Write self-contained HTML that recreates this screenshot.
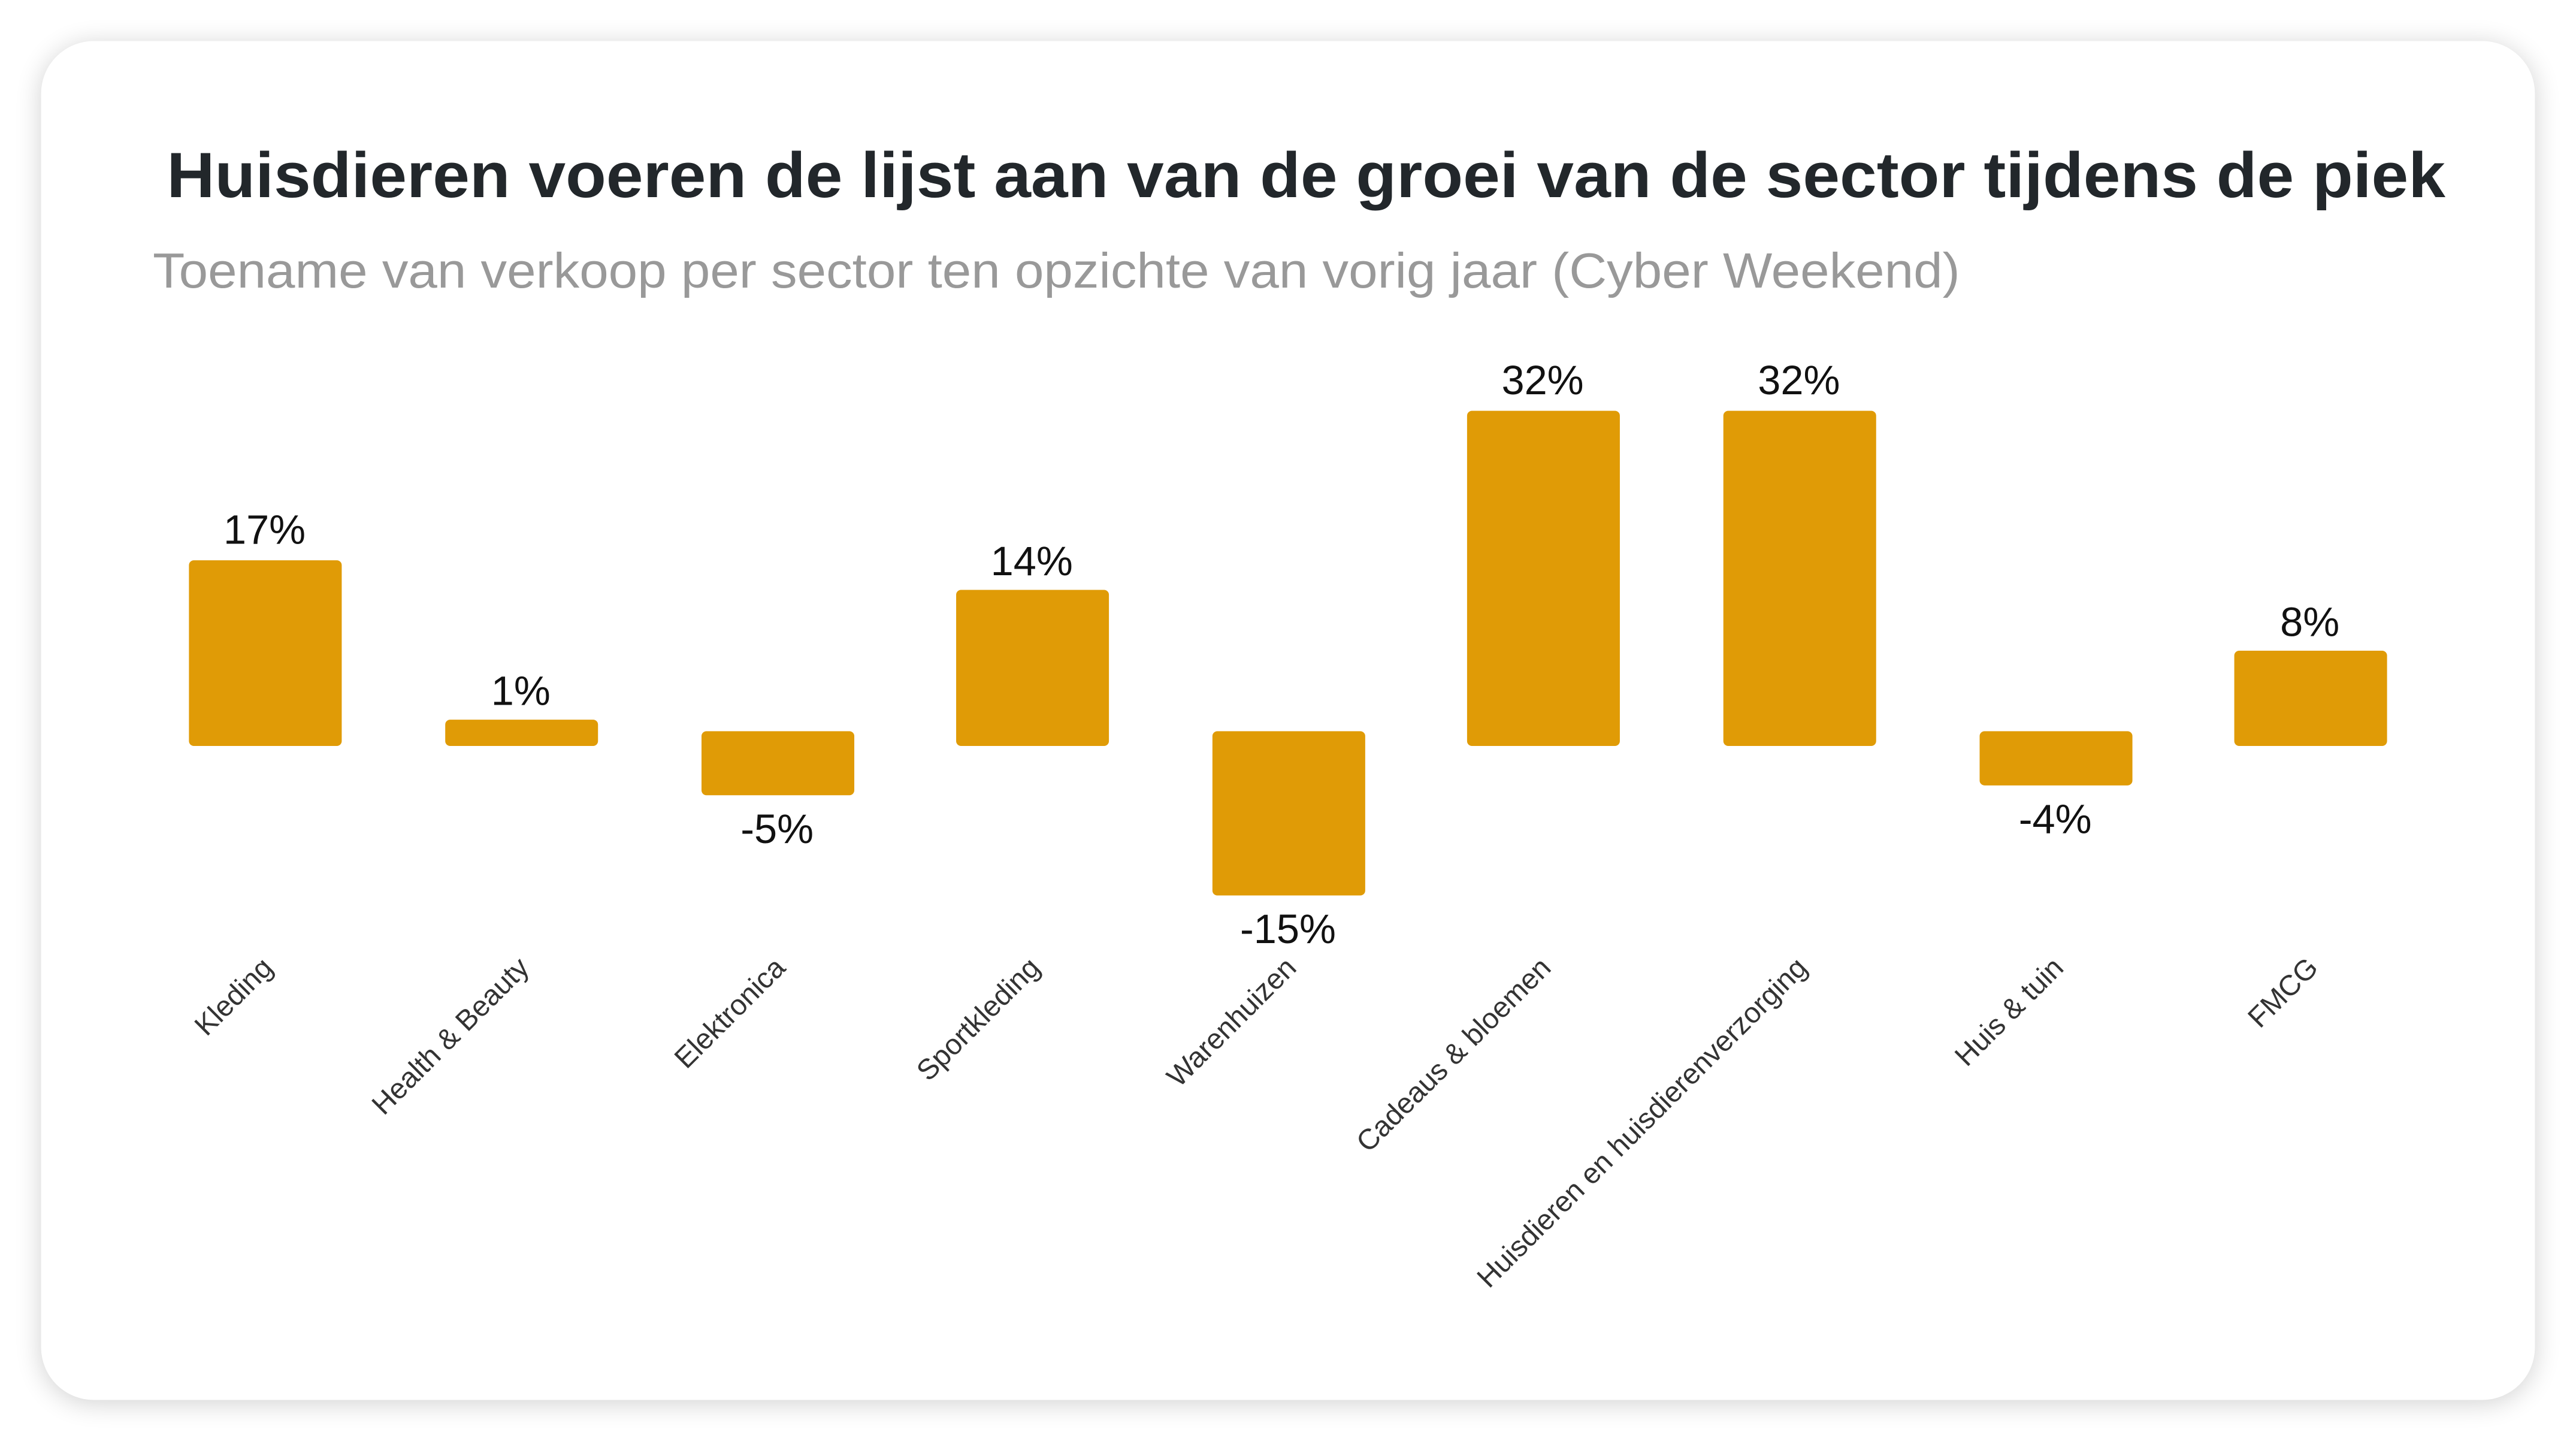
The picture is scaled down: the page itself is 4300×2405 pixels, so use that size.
<!DOCTYPE html>
<html><head><meta charset="utf-8"><style>
html,body{margin:0;padding:0;background:#fff;}
svg{display:block;}
text{font-family:"Liberation Sans","DejaVu Sans",sans-serif;}
</style></head><body>
<svg width="4300" height="2405" viewBox="0 0 1568 877" xmlns="http://www.w3.org/2000/svg">
<defs>
<filter id="sh" x="-5%" y="-5%" width="110%" height="110%">
<feGaussianBlur stdDeviation="8"/>
</filter>
</defs>
<rect width="1568" height="877" fill="#fff"/>
<rect x="25" y="27" width="1518" height="827" rx="32" fill="#000" opacity="0.18" filter="url(#sh)"/>
<rect x="25" y="25" width="1518" height="827" rx="32" fill="#fff"/>
<text x="795" y="120" text-anchor="middle" font-size="39" font-weight="bold" fill="#22272b" textLength="1387" lengthAdjust="spacingAndGlyphs">Huisdieren voeren de lijst aan van de groei van de sector tijdens de piek</text>
<text x="93" y="175" font-size="30" fill="#999" textLength="1100" lengthAdjust="spacingAndGlyphs">Toename van verkoop per sector ten opzichte van vorig jaar (Cyber Weekend)</text>
<g fill="#E09B06">
<rect x="115" y="341" width="93" height="113" rx="3"/>
<rect x="271" y="438" width="93" height="16" rx="3"/>
<rect x="427" y="445" width="93" height="39" rx="3"/>
<rect x="582" y="359" width="93" height="95" rx="3"/>
<rect x="738" y="445" width="93" height="100" rx="3"/>
<rect x="893" y="250" width="93" height="204" rx="3"/>
<rect x="1049" y="250" width="93" height="204" rx="3"/>
<rect x="1205" y="445" width="93" height="33" rx="3"/>
<rect x="1360" y="396" width="93" height="58" rx="3"/>
</g>
<g font-size="25" fill="#111" text-anchor="middle">
<text x="161" y="331">17%</text>
<text x="317" y="429">1%</text>
<text x="473" y="513">-5%</text>
<text x="628" y="350">14%</text>
<text x="784" y="574">-15%</text>
<text x="939" y="240">32%</text>
<text x="1095" y="240">32%</text>
<text x="1251" y="507">-4%</text>
<text x="1406" y="387">8%</text>
</g>
<g font-size="17.5" fill="#333" text-anchor="end">
<text transform="translate(167,590) rotate(-45)">Kleding</text>
<text transform="translate(323,590) rotate(-45)">Health &amp; Beauty</text>
<text transform="translate(479,590) rotate(-45)">Elektronica</text>
<text transform="translate(634,590) rotate(-45)">Sportkleding</text>
<text transform="translate(790,590) rotate(-45)">Warenhuizen</text>
<text transform="translate(945,590) rotate(-45)">Cadeaus &amp; bloemen</text>
<text transform="translate(1101,590) rotate(-45)">Huisdieren en huisdierenverzorging</text>
<text transform="translate(1257,590) rotate(-45)">Huis &amp; tuin</text>
<text transform="translate(1412,590) rotate(-45)">FMCG</text>
</g>
</svg>
</body></html>
